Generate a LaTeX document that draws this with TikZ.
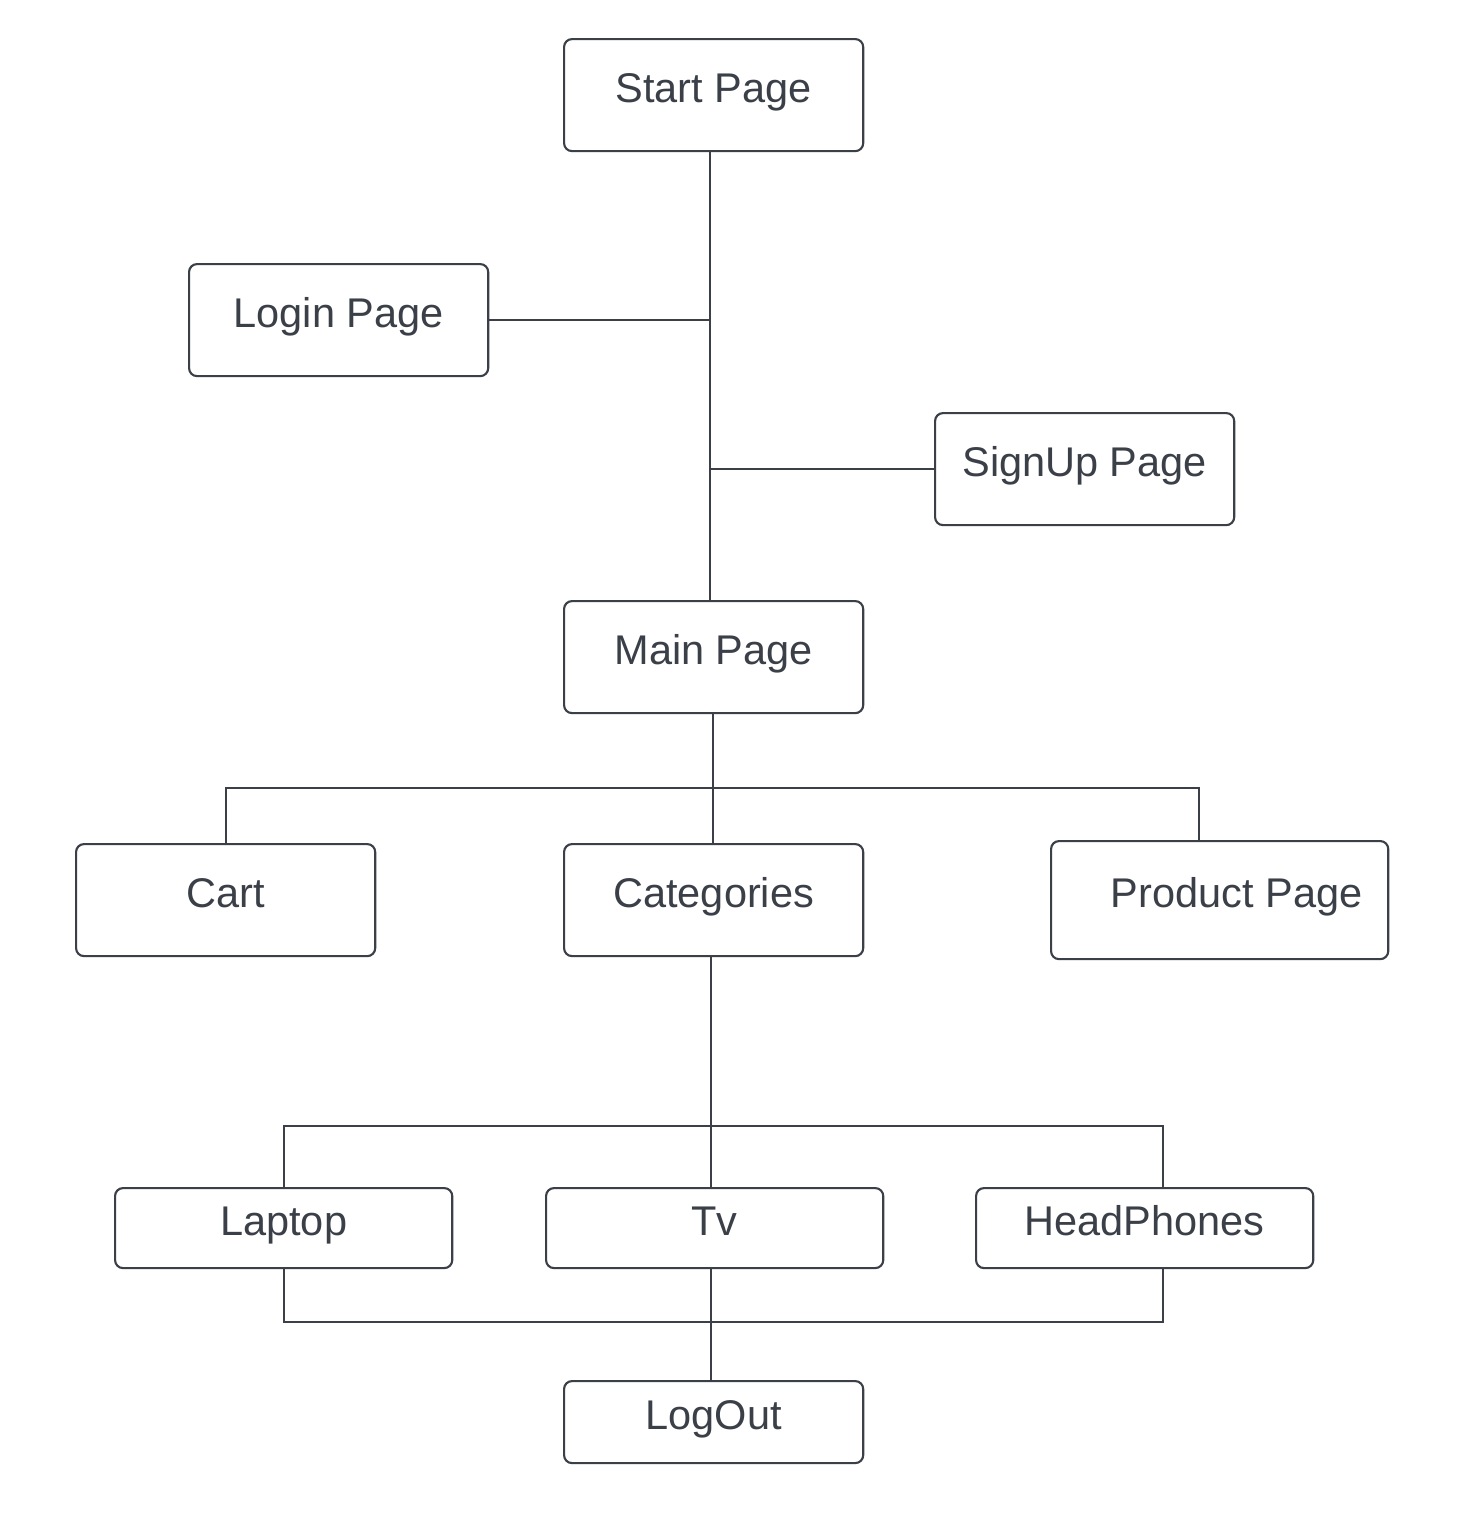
\documentclass[tikz,border=0pt]{standalone}
\usepackage{fontspec}
\setmainfont{Liberation Sans}
\definecolor{ink}{HTML}{3A3F48}
\begin{document}
\begin{tikzpicture}[x=0.01cm,y=-0.01cm,
  pagebox/.style={draw=ink, line width=0.6pt, rounded corners=0.08cm, text=ink,
    font=\fontsize{11.8}{13}\selectfont, inner sep=0pt, anchor=north west,
    text height=0.82em, text depth=0.38em},
  wire/.style={draw=ink, line width=0.6pt}]
\useasboundingbox (0,0) rectangle (1463,1538);
\fill[white] (0,0) rectangle (1463,1538);
\node[pagebox, minimum width=2.99cm, minimum height=1.12cm] (start) at (563,38) {Start Page};
\node[pagebox, minimum width=2.99cm, minimum height=1.12cm] (login) at (188,263) {Login Page};
\node[pagebox, minimum width=2.99cm, minimum height=1.12cm] (signup) at (934,412) {SignUp Page};
\node[pagebox, minimum width=2.99cm, minimum height=1.12cm] (main) at (563,600) {Main Page};
\node[pagebox, minimum width=2.99cm, minimum height=1.12cm] (cart) at (75,843) {Cart};
\node[pagebox, minimum width=2.99cm, minimum height=1.12cm] (cat) at (563,843) {Categories};
\node[pagebox, minimum width=3.37cm, minimum height=1.18cm] (product) at (1050,840) {\hspace*{0.34cm}Product Page};
\node[pagebox, minimum width=3.37cm, minimum height=0.80cm] (laptop) at (114,1187) {Laptop};
\node[pagebox, minimum width=3.37cm, minimum height=0.80cm] (tv) at (545,1187) {Tv};
\node[pagebox, minimum width=3.37cm, minimum height=0.80cm] (head) at (975,1187) {HeadPhones};
\node[pagebox, minimum width=2.99cm, minimum height=0.82cm] (logout) at (563,1380) {LogOut};

\coordinate (sx) at (710,0);
\coordinate (j1) at (713,788);
\coordinate (pj) at (1199,788);
\coordinate (j2) at (711,1126);
\coordinate (hj) at (1163,1126);
\coordinate (j3) at (711,1322);
\coordinate (hb) at (1163,1322);

\draw[wire] (start.south -| sx) -- (main.north -| sx);
\draw[wire] (login.east) -- (login.east -| sx);
\draw[wire] (signup.west) -- (signup.west -| sx);

\draw[wire] (main.south -| j1) -- (j1) -- (cat.north -| j1);
\draw[wire] (cart.north) |- (j1);
\draw[wire] (j1) -- (pj) -- (product.north -| pj);

\draw[wire] (cat.south -| j2) -- (j2) -- (tv.north -| j2);
\draw[wire] (laptop.north) |- (j2);
\draw[wire] (j2) -- (hj) -- (head.north -| hj);

\draw[wire] (laptop.south) |- (j3);
\draw[wire] (head.south -| hb) -- (hb) -- (j3);
\draw[wire] (tv.south -| j3) -- (j3) -- (logout.north -| j3);
\end{tikzpicture}
\end{document}
